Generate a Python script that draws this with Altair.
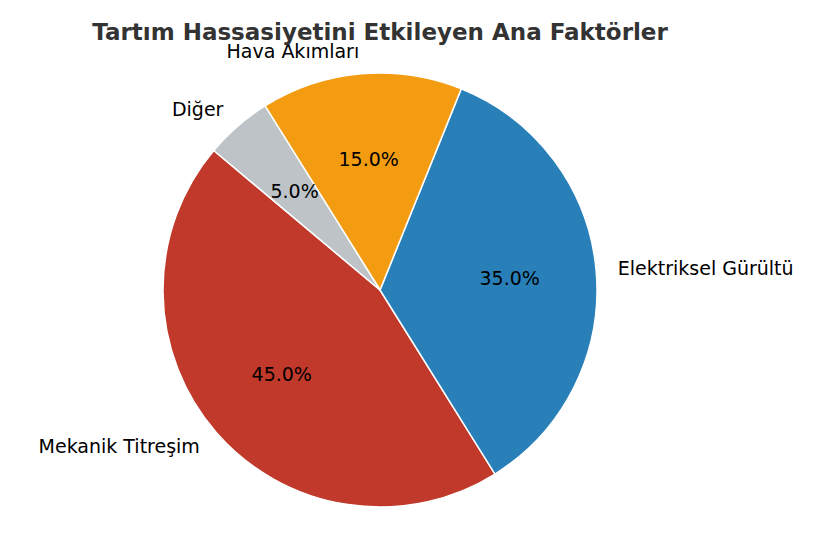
import altair as alt
import pandas as pd

categories = ["Mekanik Titreşim", "Elektriksel Gürültü", "Hava Akımları", "Diğer"]
values = [45, 35, 15, 5]
colors = ["#c0392b", "#2980b9", "#f39c12", "#bdc3c7"]
left_side = ["Mekanik Titreşim", "Hava Akımları", "Diğer"]
title_text = "Tartım Hassasiyetini Etkileyen Ana Faktörler"

df = pd.DataFrame({"cat": categories, "val": values, "idx": list(range(len(categories)))})

START = 5.4105  # 310 deg (matplotlib startangle 140)
TWO_PI = 6.283185307179586
CX, CY, R = 372, 282, 217
FONT = "DejaVu Sans"
FS = 19

base = alt.Chart(df).transform_joinaggregate(
    total="sum(val)"
).transform_window(
    cum="sum(val)", sort=[alt.SortField("idx", order="descending")], frame=[None, 0]
).transform_calculate(
    end="datum.cum / datum.total",
    start="(datum.cum - datum.val) / datum.total",
    mid="(datum.cum - datum.val / 2) / datum.total",
    pct="format(datum.val / datum.total * 100, '.1f') + '%'",
)

theta_scale = alt.Scale(domain=[0, 1], range=[START, START + TWO_PI])

arcs = base.mark_arc(outerRadius=R, stroke="white", strokeWidth=1.5).encode(
    theta=alt.Theta("start:Q", scale=theta_scale),
    theta2="end:Q",
    color=alt.Color("cat:N", scale=alt.Scale(domain=categories, range=colors), legend=None),
    x=alt.value(CX),
    y=alt.value(CY),
)

pct = base.mark_text(radius=R * 0.6, fontSize=FS, font=FONT, color="black").encode(
    theta=alt.Theta("mid:Q", scale=theta_scale),
    text="pct:N",
    x=alt.value(CX),
    y=alt.value(CY),
)

lab_left = base.transform_filter(
    alt.FieldOneOfPredicate(field="cat", oneOf=left_side)
).mark_text(radius=R * 1.1, fontSize=FS, font=FONT, color="black", align="right", baseline="middle").encode(
    theta=alt.Theta("mid:Q", scale=theta_scale),
    text="cat:N",
    x=alt.value(CX),
    y=alt.value(CY),
)

lab_right = base.transform_filter(
    {"not": alt.FieldOneOfPredicate(field="cat", oneOf=left_side)}
).mark_text(radius=R * 1.1, fontSize=FS, font=FONT, color="black", align="left", baseline="middle").encode(
    theta=alt.Theta("mid:Q", scale=theta_scale),
    text="cat:N",
    x=alt.value(CX),
    y=alt.value(CY),
)

title = alt.Chart(pd.DataFrame({"t": [title_text]})).mark_text(
    font=FONT, fontSize=23, fontWeight="bold", color="#333333", align="center", baseline="alphabetic"
).encode(text="t:N", x=alt.value(CX), y=alt.value(32))

chart = alt.layer(arcs, pct, lab_left, lab_right, title).resolve_scale(theta="shared").properties(
    width=809,
    height=534,
    autosize=alt.AutoSizeParams(type="none"),
    padding=0,
).configure_view(stroke=None)

chart.save("out.html", embed_options={"renderer": "svg", "actions": False})
